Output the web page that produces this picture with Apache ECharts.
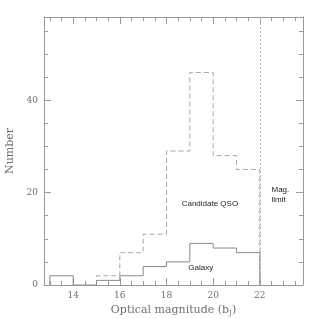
<!DOCTYPE html>
<html><head><meta charset="utf-8">
<script src="https://cdn.jsdelivr.net/npm/echarts@6/dist/echarts.min.js"></script>
<style>html,body{margin:0;padding:0;background:#fff}#c{width:319px;height:319px}</style>
</head><body><div id="c"></div>
<script>
// Data
const binEdges = [13, 14, 15, 16, 17, 18, 19, 20, 21, 22];
const galaxyCounts = [2, 0, 1, 2, 4, 5, 9, 8, 7];
const qsoBinStart = 15;
const qsoCounts = [2, 7, 11, 29, 46, 28, 25];
const magLimit = 22;
const xMajorTicks = [14, 16, 18, 20, 22];
const yMajorTicks = [0, 20, 40];

function stepPoints(edges, counts) {
  const pts = [[edges[0], 0]];
  for (let i = 0; i < counts.length; i++) pts.push([edges[i], counts[i]]);
  pts.push([edges[counts.length], 0]);
  return pts;
}
const galaxyPts = stepPoints(binEdges, galaxyCounts);
const qsoEdges = binEdges.filter(e => e >= qsoBinStart);
const qsoPts = stepPoints(qsoEdges, qsoCounts);

const xMin = 12.75, xMax = 23.85, yMin = 0, yMax = 58;
const xMinor = [];
for (let v = 13; v <= 23.5; v += 0.5) if (!xMajorTicks.includes(v)) xMinor.push(v);
const yMinor = [];
for (let v = 5; v <= 55; v += 5) if (!yMajorTicks.includes(v)) yMinor.push(v);

const axisCol = '#9a9a9a';
const textCol = '#707070';
const serif = '"DejaVu Serif", serif';

function xAx(pos, vals, len, labels, line) {
  return {
    type: 'value', position: pos, min: xMin, max: xMax,
    axisLine: {show: line, onZero: false, lineStyle: {color: axisCol, width: 1}},
    axisTick: {show: true, inside: true, length: len, customValues: vals, lineStyle: {color: axisCol}},
    axisLabel: labels ? {show: true, customValues: vals, color: textCol, fontFamily: serif, fontSize: 9, margin: 6} : {show: false},
    splitLine: {show: false}
  };
}
function yAx(pos, vals, len, labels, line) {
  return {
    type: 'value', position: pos, min: yMin, max: yMax,
    axisLine: {show: line, onZero: false, lineStyle: {color: axisCol, width: 1}},
    axisTick: {show: true, inside: true, length: len, customValues: vals, lineStyle: {color: axisCol}},
    axisLabel: labels ? {show: true, customValues: vals, color: textCol, fontFamily: serif, fontSize: 9, margin: 6} : {show: false},
    splitLine: {show: false}
  };
}

const xAxes = [xAx('bottom', xMajorTicks, 7, true, true), xAx('bottom', xMinor, 4, false, false),
               xAx('top', xMajorTicks, 7, false, true), xAx('top', xMinor, 4, false, false)];
xAxes[0].name = '{a|Optical magnitude (b}{s|J}{a|)}';
xAxes[0].nameLocation = 'middle';
xAxes[0].nameGap = 17;
xAxes[0].nameTextStyle = {rich: {a: {color: textCol, fontFamily: serif, fontSize: 11}, s: {color: textCol, fontFamily: serif, fontSize: 7, verticalAlign: 'bottom', padding: [6, 0, 0, 0]}}};

const yAxes = [yAx('left', yMajorTicks, 7, true, true), yAx('left', yMinor, 4, false, false),
               yAx('right', yMajorTicks, 7, false, true), yAx('right', yMinor, 4, false, false)];
yAxes[0].name = 'Number';
yAxes[0].nameLocation = 'middle';
yAxes[0].nameGap = 19;
yAxes[0].nameTextStyle = {color: textCol, fontFamily: serif, fontSize: 11};

const sans = '"Liberation Sans", Arial, sans-serif';
function note(text, x, y, align) {
  return {coord: [x, y], value: text, symbol: 'circle', symbolSize: 0,
    label: {show: true, position: 'inside', formatter: text, color: '#222', fontFamily: sans, fontSize: 8, align: align || 'center', verticalAlign: 'middle', lineHeight: 10}};
}

const chart = echarts.init(document.getElementById('c'), null, {renderer: 'canvas'});
chart.setOption({
  animation: false,
  backgroundColor: '#fff',
  grid: {left: 44, right: 16, top: 17, bottom: 34, containLabel: false, outerBoundsMode: 'none'},
  xAxis: xAxes,
  yAxis: yAxes,
  series: [
    {type: 'line', data: galaxyPts, step: 'end', symbol: 'none', xAxisIndex: 0, yAxisIndex: 0,
     lineStyle: {color: '#8a8a8a', width: 1}, z: 3,
     markPoint: {silent: true, data: [note('Galaxy', 19.47, 3.7), note('Candidate QSO', 19.86, 17.6)]}},
    {type: 'line', data: qsoPts, step: 'end', symbol: 'none', xAxisIndex: 0, yAxisIndex: 0,
     lineStyle: {color: '#a8a8a8', width: 1, type: [5, 3]}, z: 2,
     markLine: {silent: true, symbol: 'none', label: {show: false},
       lineStyle: {color: '#b8b8b8', type: [2, 2], width: 1}, data: [{xAxis: magLimit}]},
     markPoint: {silent: true, data: [note('Mag.\nlimit', 22.5, 19.6, 'left')]}}
  ]
});
</script></body></html>
